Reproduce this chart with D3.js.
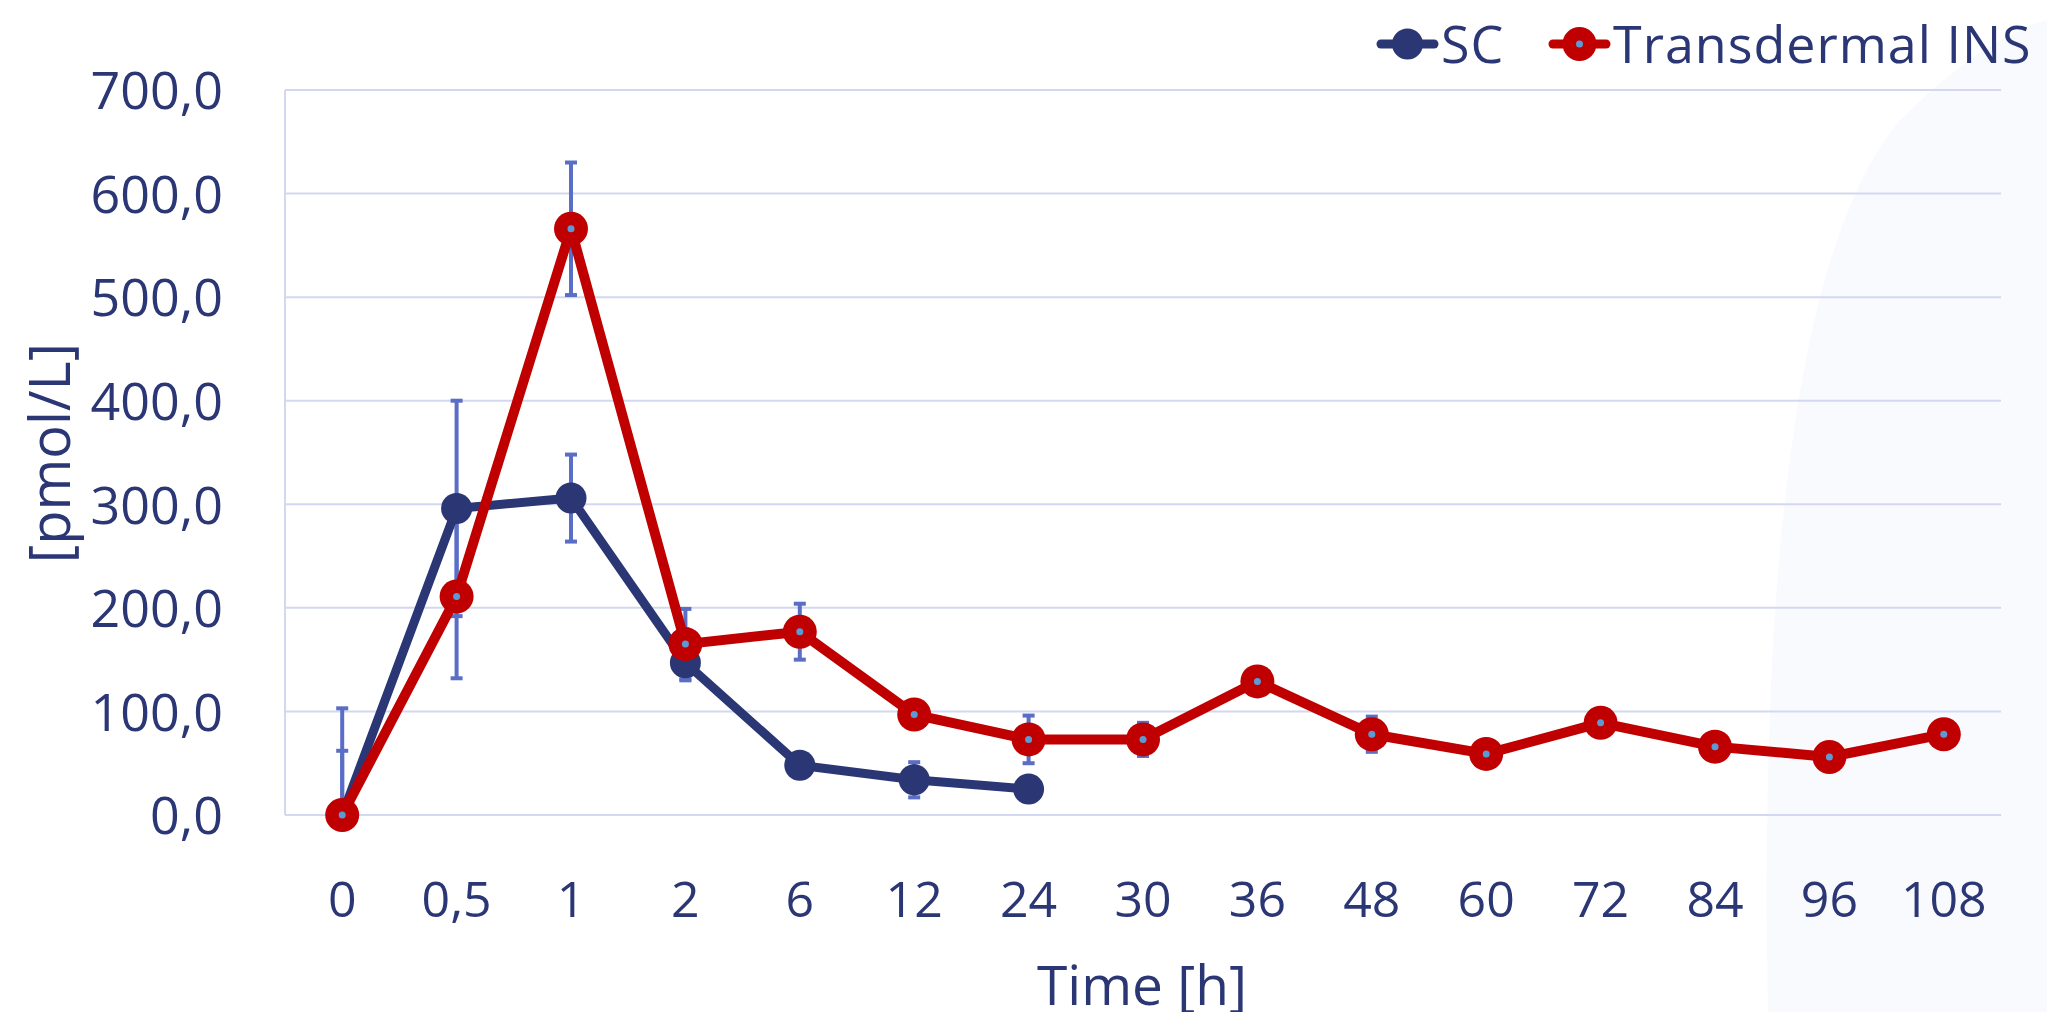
<!DOCTYPE html>
<html>
<head>
<meta charset="utf-8">
<script src="https://cdn.jsdelivr.net/npm/d3@7"></script>
<style>
  body { margin: 0; background: #fff; }
  svg { display: block; }
  text { font-family: "Open Sans", "Noto Sans", sans-serif; fill: #2b3674; }
</style>
</head>
<body>
<svg id="chart" width="2047" height="1012"></svg>
<script>
// data
var categories = ["0", "0,5", "1", "2", "6", "12", "24", "30", "36", "48", "60", "72", "84", "96", "108"];
var scValues = [0, 296, 306, 147, 48, 34, 25];
var scErrors = [103, 104, 42, 17, 8, 17, 6];
var tdValues = [0, 211, 566, 165, 177, 97, 73, 73, 129, 78, 59, 89, 66, 56, 78];
var tdErrors = [62, 79, 64, 34, 27, 10, 23, 16, 8, 17, 8, 8, 8, 8, 8];
var yTicks = [0, 100, 200, 300, 400, 500, 600, 700];
var seriesNames = ["SC", "Transdermal INS"];

var svg = d3.select("svg"),
	width = +svg.attr("width"),
	height = +svg.attr("height");

var navy = "#2b3674", red = "#c00000", errColor = "#5a6ec6", dotColor = "#5b9bd5", gridColor = "#d3d8f0";

var plotLeft = 285, plotRight = 2001, plotTop = 90, plotBottom = 815;

// faint background swoosh on the right
svg.append("path")
	.attr("d", "M1768,1012 C1760,600 1790,250 1900,120 C1960,60 2010,30 2047,20 L2047,1012 Z")
	.attr("fill", "#f8fafe");

var x = d3.scaleBand().domain(categories).range([plotLeft, plotRight]);
var y = d3.scaleLinear().domain([0, 700]).range([plotBottom, plotTop]);

function cx(i) { return x(categories[i]) + x.bandwidth() / 2; }

// grid
svg.append("g").selectAll("line")
	.data(yTicks)
	.enter().append("line")
	.attr("x1", plotLeft).attr("x2", plotRight)
	.attr("y1", function (d) { return y(d); })
	.attr("y2", function (d) { return y(d); })
	.style("stroke", gridColor)
	.style("stroke-width", 2);

svg.append("line")
	.attr("x1", plotLeft).attr("x2", plotLeft)
	.attr("y1", y(700)).attr("y2", y(0))
	.style("stroke", gridColor)
	.style("stroke-width", 2);

// y axis
var yAxis = svg.append("g")
	.attr("transform", "translate(" + (plotLeft - 62) + ",0)")
	.call(d3.axisLeft(y).tickValues(yTicks).tickSize(0).tickPadding(0)
		.tickFormat(function (d) { return d3.format(".1f")(d).replace(".", ","); }));
yAxis.select(".domain").remove();
yAxis.selectAll("text").style("font-size", "52px").attr("dy", "0.36em").style("fill", navy)
	.attr("x", 0);

// x axis
var xAxis = svg.append("g")
	.attr("transform", "translate(0," + (plotBottom + 84) + ")")
	.call(d3.axisBottom(x).tickSize(0).tickPadding(0));
xAxis.select(".domain").remove();
xAxis.selectAll("text").style("font-size", "50px").attr("dy", "0.36em").attr("y", 0)
	.style("fill", navy);

// axis titles
svg.append("text")
	.attr("x", 1142)
	.attr("y", 1005)
	.attr("text-anchor", "middle")
	.style("font-size", "55px")
	.text("Time [h]");

svg.append("text")
	.attr("transform", "translate(70," + 453 + ") rotate(-90)")
	.attr("text-anchor", "middle")
	.style("font-size", "56px")
	.text("[pmol/L]");

// error bars
function errorBars(values, errors) {
	var g = svg.append("g").style("stroke", errColor);
	values.forEach(function (v, i) {
		var hi = y(Math.min(700, v + errors[i])), lo = y(Math.max(0, v - errors[i]));
		g.append("line").attr("x1", cx(i)).attr("x2", cx(i)).attr("y1", hi).attr("y2", lo)
			.style("stroke-width", 4);
		g.append("line").attr("x1", cx(i) - 6).attr("x2", cx(i) + 6).attr("y1", hi).attr("y2", hi)
			.style("stroke-width", 4);
		if (v - errors[i] > 0)
			g.append("line").attr("x1", cx(i) - 6).attr("x2", cx(i) + 6).attr("y1", lo).attr("y2", lo)
				.style("stroke-width", 4);
	});
}
errorBars(scValues, scErrors);
errorBars(tdValues, tdErrors);

var line = d3.line()
	.x(function (d, i) { return cx(i); })
	.y(function (d) { return y(d); });

// SC
svg.append("path")
	.datum(scValues)
	.attr("d", line)
	.attr("fill", "none")
	.style("stroke", navy)
	.style("stroke-width", 9)
	.style("stroke-linejoin", "round");

svg.append("g").selectAll("circle")
	.data(scValues)
	.enter().append("circle")
	.attr("cx", function (d, i) { return cx(i); })
	.attr("cy", function (d) { return y(d); })
	.attr("r", 15.5)
	.style("fill", navy);

// Transdermal
svg.append("path")
	.datum(tdValues)
	.attr("d", line)
	.attr("fill", "none")
	.style("stroke", red)
	.style("stroke-width", 10)
	.style("stroke-linejoin", "round");

svg.append("g").selectAll("circle")
	.data(tdValues)
	.enter().append("circle")
	.attr("cx", function (d, i) { return cx(i); })
	.attr("cy", function (d) { return y(d); })
	.attr("r", 17)
	.style("fill", red);

svg.append("g").selectAll("circle")
	.data(tdValues)
	.enter().append("circle")
	.attr("cx", function (d, i) { return cx(i); })
	.attr("cy", function (d) { return y(d); })
	.attr("r", 3.5)
	.style("fill", dotColor);

// legend
var legend = svg.append("g");
var legendItems = [
	{ name: seriesNames[0], color: navy, x0: 1381, dot: false },
	{ name: seriesNames[1], color: red, x0: 1553, dot: true }
];
legendItems.forEach(function (d) {
	legend.append("line")
		.attr("x1", d.x0).attr("x2", d.x0 + 53).attr("y1", 44).attr("y2", 44)
		.style("stroke", d.color).style("stroke-width", 9).style("stroke-linecap", "round");
	legend.append("circle").attr("cx", d.x0 + 26.5).attr("cy", 44).attr("r", d.dot ? 17 : 15.5)
		.style("fill", d.color);
	if (d.dot)
		legend.append("circle").attr("cx", d.x0 + 26.5).attr("cy", 44).attr("r", 3.5).style("fill", dotColor);
	legend.append("text")
		.attr("x", d.x0 + 60).attr("y", 44)
		.attr("dy", "0.36em")
		.style("font-size", "52px")
		.style("letter-spacing", "1px")
		.text(d.name);
});
</script>
</body>
</html>
